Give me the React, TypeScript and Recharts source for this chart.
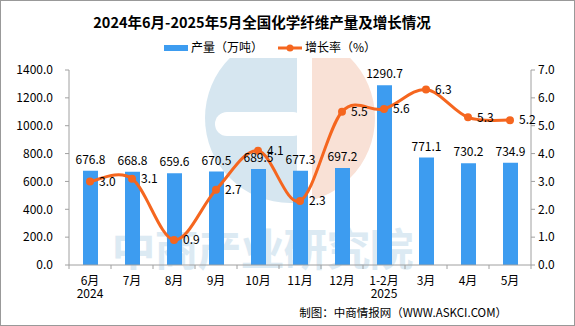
import { ComposedChart, Bar, Line, XAxis, YAxis, LabelList } from 'recharts';

const months = ['6月', '7月', '8月', '9月', '10月', '11月', '12月', '1-2月', '3月', '4月', '5月'];
const years = ['2024', '', '', '', '', '', '', '2025', '', '', ''];
const output = [676.8, 668.8, 659.6, 670.5, 689.5, 677.3, 697.2, 1290.7, 771.1, 730.2, 734.9];
const growth = [3.0, 3.1, 0.9, 2.7, 4.1, 2.3, 5.5, 5.6, 6.3, 5.3, 5.2];
const leftTicks = [0, 200, 400, 600, 800, 1000, 1200, 1400];
const rightTicks = [0, 1, 2, 3, 4, 5, 6, 7];

const data = months.map((m, i) => ({ month: m, year: years[i], output: output[i], growth: growth[i] }));

const FONT = "'Noto Sans CJK SC', sans-serif";
const BAR = '#3d9cf0';
const LINE = '#f5661f';
const AXIS = '#a0a0a0';

// Catmull-Rom style smoothing, close to Excel's smoothed line
function smoothCurve(context: any) {
    let pts: number[][] = [];
    return {
        areaStart() {},
        areaEnd() {},
        lineStart() {
            pts = [];
        },
        point(x: number, y: number) {
            pts.push([+x, +y]);
        },
        lineEnd() {
            if (!pts.length) return;
            context.moveTo(pts[0][0], pts[0][1]);
            const t = 1 / 6;
            for (let i = 0; i < pts.length - 1; i++) {
                const p0 = pts[i - 1] || pts[i];
                const p1 = pts[i];
                const p2 = pts[i + 1];
                const p3 = pts[i + 2] || p2;
                context.bezierCurveTo(
                    p1[0] + (p2[0] - p0[0]) * t,
                    p1[1] + (p2[1] - p0[1]) * t,
                    p2[0] - (p3[0] - p1[0]) * t,
                    p2[1] - (p3[1] - p1[1]) * t,
                    p2[0],
                    p2[1]
                );
            }
        },
    };
}

const MonthTick = (props: any) => {
    const { x, y, index, payload } = props;
    const half = 21;
    const row = data[index];
    return (
        <g>
            <line x1={x - half} y1={y} x2={x - half} y2={y + 4} stroke={AXIS} />
            {index === data.length - 1 && <line x1={x + half} y1={y} x2={x + half} y2={y + 4} stroke={AXIS} />}
            <text x={x} y={y + 20} textAnchor="middle" fontSize={12} fill="#000" fontFamily={FONT}>
                {payload.value}
            </text>
            {row && row.year && (
                <text x={x} y={y + 33} textAnchor="middle" fontSize={12} fill="#000" fontFamily={FONT}>
                    {row.year}
                </text>
            )}
        </g>
    );
};

export default function App() {
    return (
        <div style={{ position: 'absolute', left: 0, top: 0, width: 575, height: 326, background: '#fff' }}>
            <svg width={575} height={326} style={{ position: 'absolute', left: 0, top: 0 }}>
                <rect x={0.5} y={0.5} width={574} height={325} fill="#fff" stroke="#999" />
                {/* watermark logo */}
                <defs>
                    <clipPath id="wmLeft">
                        <rect x={150} y={58} width={147} height={200} />
                    </clipPath>
                    <clipPath id="wmRight">
                        <rect x={312} y={58} width={100} height={200} />
                    </clipPath>
                </defs>
                <circle cx={290} cy={118} r={85} fill="#d6e6f0" clipPath="url(#wmLeft)" />
                <rect x={215} y={112} width={90} height={24} rx={12} fill="#fff" />
                <circle cx={290} cy={118} r={85} fill="#f9e1d6" clipPath="url(#wmRight)" />
                <text x={262} y={266} textAnchor="middle" fontSize={44} fontWeight="bold" fill="#dceaf3" fontFamily={FONT} letterSpacing={-1}>
                    中商产业研究院
                </text>
                {/* title */}
                <text x={262} y={28} textAnchor="middle" fontSize={14.5} fontWeight="bold" fill="#000" fontFamily={FONT}>
                    2024年6月-2025年5月全国化学纤维产量及增长情况
                </text>
                {/* legend */}
                <rect x={164} y={45} width={24} height={6} fill={BAR} />
                <text x={191} y={52} fontSize={12} fill="#000" fontFamily={FONT}>产量（万吨）</text>
                <line x1={278} y1={48} x2={302} y2={48} stroke={LINE} strokeWidth={3} />
                <circle cx={290} cy={48} r={3.5} fill={LINE} />
                <text x={305} y={52} fontSize={12} fill="#000" fontFamily={FONT}>增长率（%）</text>
                {/* source */}
                <text x={507} y={317} textAnchor="end" fontSize={11.5} fill="#000" fontFamily={FONT}>
                    制图：中商情报网（WWW.ASKCI.COM）
                </text>
            </svg>
            <div style={{ position: 'absolute', left: 0, top: 0 }}>
                <ComposedChart width={575} height={326} data={data} margin={{ top: 70, right: 0, left: 0, bottom: 21 }}>
                    <XAxis
                        dataKey="month"
                        height={40}
                        tickLine={false}
                        tickSize={0}
                        tickMargin={0}
                        axisLine={{ stroke: AXIS }}
                        interval={0}
                        tick={<MonthTick />}
                    />
                    <YAxis
                        yAxisId="left"
                        width={69}
                        domain={[0, 1400]}
                        ticks={leftTicks}
                        tickFormatter={(v) => v.toFixed(1)}
                        tickSize={4}
                        tickMargin={12}
                        tickLine={{ stroke: AXIS }}
                        axisLine={{ stroke: AXIS }}
                        tick={{ fill: '#000', fontSize: 12, fontFamily: FONT }}
                        interval={0}
                    />
                    <YAxis
                        yAxisId="right"
                        orientation="right"
                        width={44}
                        domain={[0, 7]}
                        ticks={rightTicks}
                        tickFormatter={(v) => v.toFixed(1)}
                        tickSize={4}
                        tickMargin={3}
                        tickLine={{ stroke: AXIS }}
                        axisLine={{ stroke: AXIS }}
                        tick={{ fill: '#000', fontSize: 12, fontFamily: FONT }}
                        interval={0}
                    />
                    <Bar yAxisId="left" dataKey="output" fill={BAR} barSize={15} isAnimationActive={false}>
                        <LabelList
                            dataKey="output"
                            position="top"
                            offset={7}
                            formatter={(v: any) => Number(v).toFixed(1)}
                            style={{ fill: '#000', fontSize: 12, fontFamily: FONT }}
                        />
                    </Bar>
                    <Line
                        yAxisId="right"
                        dataKey="growth"
                        type={smoothCurve as any}
                        stroke={LINE}
                        strokeWidth={3}
                        dot={{ r: 4, fill: LINE, stroke: LINE, strokeWidth: 0 }}
                        activeDot={false}
                        isAnimationActive={false}
                    >
                        <LabelList
                            dataKey="growth"
                            position="right"
                            offset={9}
                            formatter={(v: any) => Number(v).toFixed(1)}
                            style={{ fill: '#000', fontSize: 12, fontFamily: FONT }}
                        />
                    </Line>
                </ComposedChart>
            </div>
        </div>
    );
}
